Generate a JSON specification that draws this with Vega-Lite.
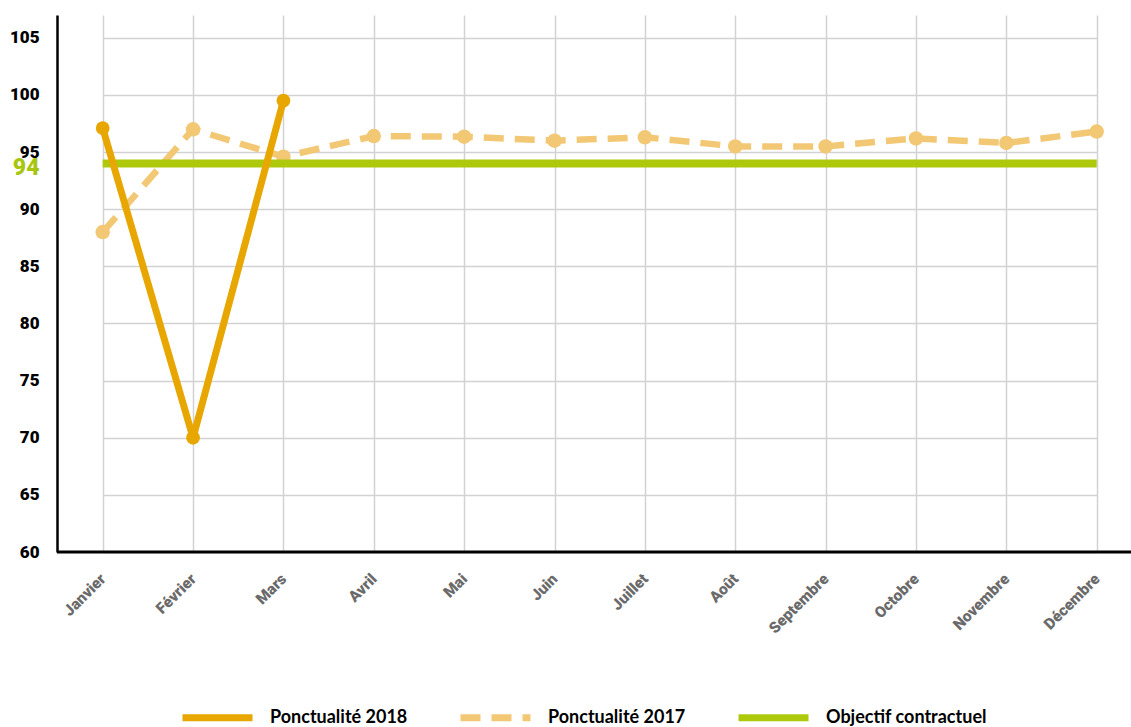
{
  "$schema": "https://vega.github.io/schema/vega-lite/v6.json",
  "width": 1074,
  "height": 537,
  "autosize": {"type": "none"},
  "padding": {"left": 57, "top": 15, "right": 0, "bottom": 175},
  "background": "white",
  "config": {
    "view": {"stroke": null},
    "font": "Lato",
    "axis": {"labelFont": "Roboto", "labelFontWeight": 900, "title": null, "ticks": false},
    "axisX": {
      "domain": false, "grid": true, "gridColor": "#d2d2d2", "gridWidth": 1.5,
      "labelAngle": -45, "labelAlign": "right", "labelBaseline": "middle",
      "labelPadding": 24, "labelFontSize": 15.5, "labelColor": "#6a6a6a"
    },
    "axisY": {
      "domainColor": "#000000", "domainWidth": 2.5,
      "gridColor": "#d2d2d2", "gridWidth": 1.5,
      "labelFontSize": 17, "labelColor": "#000000", "labelPadding": 18,
      "labelOverlap": false, "labelBaseline": "middle"
    },
    "legend": {
      "orient": "none",
      "legendX": 122,
      "legendY": 664,
      "direction": "horizontal",
      "symbolType": "stroke",
      "symbolSize": 4900,
      "symbolStrokeWidth": 7,
      "labelFont": "Lato",
      "labelFontSize": 18,
      "labelFontWeight": "bold",
      "labelColor": "#000000",
      "labelOffset": 14,
      "labelLimit": 0,
      "columnPadding": 38,
      "padding": 0
    }
  },
  "data": {
    "values": [
      {"serie": "Ponctualité 2018", "mois": "Janvier", "m": 1, "valeur": 97.1},
      {"serie": "Ponctualité 2018", "mois": "Février", "m": 2, "valeur": 70},
      {"serie": "Ponctualité 2018", "mois": "Mars", "m": 3, "valeur": 99.5},
      {"serie": "Ponctualité 2017", "mois": "Janvier", "m": 1, "valeur": 88.0},
      {"serie": "Ponctualité 2017", "mois": "Février", "m": 2, "valeur": 97.0},
      {"serie": "Ponctualité 2017", "mois": "Mars", "m": 3, "valeur": 94.6},
      {"serie": "Ponctualité 2017", "mois": "Avril", "m": 4, "valeur": 96.4},
      {"serie": "Ponctualité 2017", "mois": "Mai", "m": 5, "valeur": 96.35},
      {"serie": "Ponctualité 2017", "mois": "Juin", "m": 6, "valeur": 96.0},
      {"serie": "Ponctualité 2017", "mois": "Juillet", "m": 7, "valeur": 96.3},
      {"serie": "Ponctualité 2017", "mois": "Août", "m": 8, "valeur": 95.5},
      {"serie": "Ponctualité 2017", "mois": "Septembre", "m": 9, "valeur": 95.5},
      {"serie": "Ponctualité 2017", "mois": "Octobre", "m": 10, "valeur": 96.2},
      {"serie": "Ponctualité 2017", "mois": "Novembre", "m": 11, "valeur": 95.8},
      {"serie": "Ponctualité 2017", "mois": "Décembre", "m": 12, "valeur": 96.8},
      {"serie": "Objectif contractuel", "mois": "Janvier", "m": 1, "valeur": 94},
      {"serie": "Objectif contractuel", "mois": "Février", "m": 2, "valeur": 94},
      {"serie": "Objectif contractuel", "mois": "Mars", "m": 3, "valeur": 94},
      {"serie": "Objectif contractuel", "mois": "Avril", "m": 4, "valeur": 94},
      {"serie": "Objectif contractuel", "mois": "Mai", "m": 5, "valeur": 94},
      {"serie": "Objectif contractuel", "mois": "Juin", "m": 6, "valeur": 94},
      {"serie": "Objectif contractuel", "mois": "Juillet", "m": 7, "valeur": 94},
      {"serie": "Objectif contractuel", "mois": "Août", "m": 8, "valeur": 94},
      {"serie": "Objectif contractuel", "mois": "Septembre", "m": 9, "valeur": 94},
      {"serie": "Objectif contractuel", "mois": "Octobre", "m": 10, "valeur": 94},
      {"serie": "Objectif contractuel", "mois": "Novembre", "m": 11, "valeur": 94},
      {"serie": "Objectif contractuel", "mois": "Décembre", "m": 12, "valeur": 94}
    ]
  },
  "layer": [
    {
      "transform": [{"filter": "datum.serie === 'Ponctualité 2017'"}],
      "mark": {"type": "line", "strokeWidth": 6.5, "strokeJoin": "round"},
      "encoding": {
        "x": {
          "field": "mois", "type": "ordinal",
          "scale": {"type": "point", "padding": 0, "domain": ["Janvier", "Février", "Mars", "Avril", "Mai", "Juin", "Juillet", "Août", "Septembre", "Octobre", "Novembre", "Décembre"], "range": [45.7, 1039.7]},
          "axis": {"title": null}
        },
        "y": {
          "field": "valeur", "type": "quantitative",
          "scale": {"domain": [60, 107], "nice": false, "zero": false},
          "axis": {
            "title": null,
            "values": [60, 65, 70, 75, 80, 85, 90, 95, 100, 105, 94],
            "gridOpacity": {"condition": {"test": "datum.value === 94", "value": 0}, "value": 1},
            "labelFontSize": {"condition": {"test": "datum.value === 94", "value": 23}, "value": 17},
            "labelColor": {"condition": {"test": "datum.value === 94", "value": "#a9c60e"}, "value": "#000000"},
            "labelOffset": {"condition": {"test": "datum.value === 94", "value": 4}, "value": 0}
          }
        },
        "color": {
          "field": "serie", "type": "nominal",
          "scale": {"domain": ["Ponctualité 2018", "Ponctualité 2017", "Objectif contractuel"], "range": ["#e8a600", "#f3c875", "#aec90c"]},
          "legend": {"title": null}
        },
        "strokeDash": {
          "field": "serie", "type": "nominal",
          "scale": {"domain": ["Ponctualité 2018", "Ponctualité 2017", "Objectif contractuel"], "range": [[1, 0], [20, 11], [1, 0]]},
          "legend": {"title": null}
        },
        "order": {"field": "m", "type": "quantitative"}
      }
    },
    {
      "transform": [{"filter": "datum.serie === 'Ponctualité 2017'"}],
      "mark": {"type": "point", "filled": true, "size": 210, "opacity": 1, "color": "#f3c875"},
      "encoding": {
        "x": {"field": "mois", "type": "ordinal"},
        "y": {"field": "valeur", "type": "quantitative"}
      }
    },
    {
      "transform": [{"filter": "datum.serie === 'Objectif contractuel'"}],
      "mark": {"type": "line", "strokeWidth": 8},
      "encoding": {
        "x": {"field": "mois", "type": "ordinal"},
        "y": {"field": "valeur", "type": "quantitative"},
        "color": {"field": "serie", "type": "nominal", "legend": {"title": null}},
        "strokeDash": {"field": "serie", "type": "nominal", "legend": {"title": null}},
        "order": {"field": "m", "type": "quantitative"}
      }
    },
    {
      "transform": [{"filter": "datum.serie === 'Ponctualité 2018'"}],
      "mark": {"type": "line", "strokeWidth": 7, "strokeJoin": "round", "strokeCap": "round"},
      "encoding": {
        "x": {"field": "mois", "type": "ordinal"},
        "y": {"field": "valeur", "type": "quantitative"},
        "color": {"field": "serie", "type": "nominal", "legend": {"title": null}},
        "strokeDash": {"field": "serie", "type": "nominal", "legend": {"title": null}},
        "order": {"field": "m", "type": "quantitative"}
      }
    },
    {
      "transform": [{"filter": "datum.serie === 'Ponctualité 2018'"}],
      "mark": {"type": "point", "filled": true, "size": 190, "opacity": 1, "color": "#e8a600"},
      "encoding": {
        "x": {"field": "mois", "type": "ordinal"},
        "y": {"field": "valeur", "type": "quantitative"}
      }
    },
    {
      "data": {"values": [{"valeur": 60}]},
      "mark": {"type": "rule", "color": "#000000", "strokeWidth": 3},
      "encoding": {
        "y": {"field": "valeur", "type": "quantitative"}
      }
    }
  ]
}
